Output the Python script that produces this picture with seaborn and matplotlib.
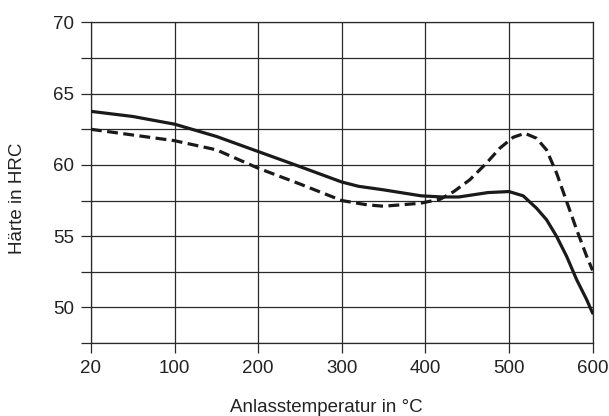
import numpy as np
import pandas as pd
import matplotlib
matplotlib.use("Agg")
import matplotlib.pyplot as plt
import seaborn as sns

# Werte
temp_solid = [20, 60, 100, 150, 200, 250, 300, 320, 350, 395, 420, 440, 475, 500,
              517, 533, 545, 557, 569, 581, 593, 600]
hrc_solid = [63.76, 63.4, 62.86, 62.0, 60.94, 59.88, 58.8, 58.5, 58.25, 57.83, 57.75, 57.75, 58.06, 58.13,
             57.83, 56.96, 56.15, 54.98, 53.58, 51.94, 50.54, 49.6]

temp_dashed = [20, 60, 100, 150, 200, 250, 300, 330, 350, 394, 418, 434, 453, 473, 489, 505,
               519, 533, 545, 557, 569, 581, 593, 600]
hrc_dashed = [62.5, 62.1, 61.7, 61.06, 59.77, 58.66, 57.5, 57.2, 57.1, 57.31, 57.6, 58.13, 58.95, 60.12, 61.17, 61.94,
              62.22, 61.87, 61.05, 59.42, 57.43, 55.45, 53.58, 52.6]

x_ticks = [20, 100, 200, 300, 400, 500, 600]
y_ticks = [47.5, 50, 52.5, 55, 57.5, 60, 62.5, 65, 67.5, 70]


def fwd(x):
    return np.interp(x, [20, 100, 600], [0, 1, 6])


def inv(x):
    return np.interp(x, [0, 1, 6], [20, 100, 600])


sns.set_style("white")
plt.rcParams['font.family'] = ['Liberation Sans', 'DejaVu Sans']

df_s = pd.DataFrame({"T": temp_solid, "HRC": hrc_solid})
df_d = pd.DataFrame({"T": temp_dashed, "HRC": hrc_dashed})

fig = plt.figure(figsize=(6.09, 4.16), dpi=100)
ax = fig.add_axes([0.1494, 0.1755, 0.8236, 0.7705])
ax.set_xscale("function", functions=(fwd, inv))

grid_c = "#2a2a2a"
sns.lineplot(data=df_s, x="T", y="HRC", ax=ax, color="#1a1a1a", lw=2.3, zorder=3)
sns.lineplot(data=df_d, x="T", y="HRC", ax=ax, color="#1a1a1a", lw=2.3, zorder=3,
             linestyle=(0, (3.4, 1.7)))

ax.set_xlim(20, 600)
ax.set_ylim(47.5, 70)
ax.set_xticks(x_ticks)
ax.set_xticklabels([str(t) for t in x_ticks])
ax.set_yticks(y_ticks)
ax.set_yticklabels([("%d" % v) if v % 5 == 0 else "" for v in y_ticks])
ax.grid(True, color=grid_c, lw=0.9)
for side in ["left", "right", "bottom", "top"]:
    ax.spines[side].set_color(grid_c)
    ax.spines[side].set_linewidth(0.9)
ax.tick_params(axis="both", length=7.2, width=0.9, color=grid_c, pad=5,
               labelsize=13.5, labelcolor="#222222")
ax.tick_params(axis="x", bottom=True)
ax.tick_params(axis="y", left=True)

ax.set_xlabel("Anlasstemperatur in °C", fontsize=13.5, color="#222222")
ax.set_ylabel("Härte in HRC", fontsize=13.5, color="#222222")
ax.xaxis.set_label_coords(0.47, -0.174)
ax.yaxis.set_label_coords(-0.13, 0.452)

fig.savefig("out.png", dpi=100)
